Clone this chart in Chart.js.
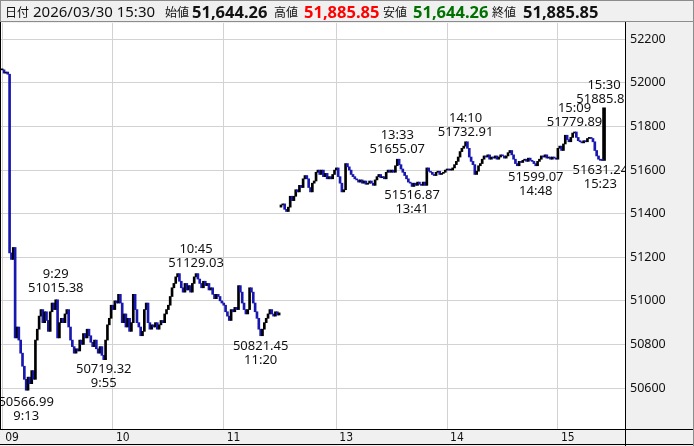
<!DOCTYPE html>
<html>
<head>
<meta charset="utf-8">
<script src="https://cdn.jsdelivr.net/npm/chart.js@4.4.1/dist/chart.umd.min.js"></script>
<style>
  body { margin: 0; background: #fff; }
  #wrap { position: relative; width: 694px; height: 446px; overflow: hidden; }
  #head { position: absolute; left: 0; top: 0; width: 694px; height: 22px; box-sizing: border-box;
          border: 1px solid #8c8c8c; background: #f0f0f0; z-index: 2; }
  #head span { position: absolute; top: 0; line-height: 21px; white-space: nowrap; color: #111; }
  .k { font-family: "Noto Sans CJK JP", sans-serif; font-size: 12px; }
  .n { font-family: "Noto Sans", sans-serif; font-size: 15px; }
  .b { font-family: "Noto Sans", sans-serif; font-size: 16.5px; font-weight: bold; }
  #chart { position: absolute; left: 0; top: 0; }
</style>
</head>
<body>
<div id="wrap">
  <div id="head">
    <span class="k" style="left:4px">日付</span>
    <span class="n" style="left:32px">2026/03/30 15:30</span>
    <span class="k" style="left:164px">始値</span>
    <span class="b" style="left:191px">51,644.26</span>
    <span class="k" style="left:273px">高値</span>
    <span class="b" style="left:303px;color:#ff0000">51,885.85</span>
    <span class="k" style="left:382px">安値</span>
    <span class="b" style="left:412px;color:#007000">51,644.26</span>
    <span class="k" style="left:491px">終値</span>
    <span class="b" style="left:522px">51,885.85</span>
  </div>
  <canvas id="chart" width="694" height="446"></canvas>
</div>
<script>
// 1-minute closes, morning session 9:00 - 11:30
const amOpen = 52060;
const amClose = [
  52060, 52045, 52050, 52040, 51220, 51190, 51245, 50830, 50880, 50820,
  50760, 50700, 50640, 50590, 50650, 50620, 50680, 50640, 50820, 50870,
  50930, 50960, 50900, 50950, 50910, 50860, 50950, 50990, 50960, 51005,
  50830, 50900, 50920, 50900, 50940, 50960, 50880, 50820, 50790, 50760,
  50780, 50770, 50820, 50800, 50850, 50830, 50870, 50840, 50810, 50790,
  50820, 50780, 50760, 50790, 50750, 50730, 50820, 50890, 50920, 50980,
  50960, 51000, 50990, 51030, 50990, 50900, 50940, 50880, 50920, 50860,
  50900, 51030, 50960, 50900, 50880, 50840, 50860, 50960, 50990, 50900,
  50870, 50890, 50880, 50900, 50870, 50890, 50910, 50900, 50940, 50960,
  50980, 51020, 51060, 51080, 51110, 51125, 51090, 51060, 51040, 51080,
  51050, 51070, 51040, 51080, 51110, 51125, 51100, 51080, 51060, 51090,
  51070, 51080, 51050, 51060, 51030, 51010, 51030, 51020, 51000, 50990,
  50980, 50950, 50930, 50910, 50960, 50950, 50970, 50960, 51070, 51040,
  50990, 50960, 50940, 50960, 51060, 51040, 50990, 50950, 50920, 50870,
  50840, 50870, 50900, 50920, 50940, 50960, 50940, 50930, 50950, 50935,
  50945
];

// afternoon session 12:30 - 15:24, then the 15:30 closing auction
const pmOpen = 51430;
const pmClose = [
  51440, 51445, 51420, 51410, 51430, 51480, 51460, 51480, 51510, 51500,
  51530, 51520, 51560, 51575, 51560, 51520, 51500, 51540, 51550, 51590,
  51600, 51580, 51600, 51570, 51585, 51560, 51570, 51560, 51580, 51600,
  51610, 51570, 51540, 51500, 51510, 51630, 51615, 51600, 51580, 51570,
  51560, 51555, 51545, 51555, 51540, 51550, 51535, 51540, 51550, 51540,
  51530, 51555, 51570, 51580, 51565, 51570, 51560, 51590, 51600, 51590,
  51600, 51590, 51620, 51650, 51625, 51605, 51590, 51575, 51560, 51545,
  51540, 51525, 51540, 51530, 51545, 51535, 51530, 51545, 51530, 51610,
  51595, 51590, 51580, 51575, 51590, 51595, 51580, 51585, 51590, 51600,
  51605, 51600, 51600, 51610, 51625, 51640, 51660, 51685, 51700, 51710,
  51730, 51700, 51660, 51640, 51625, 51580, 51595, 51620, 51630, 51650,
  51665, 51660, 51670, 51650, 51660, 51655, 51665, 51650, 51660, 51670,
  51665, 51655, 51665, 51680, 51690, 51670, 51650, 51630, 51620, 51640,
  51635, 51645, 51650, 51640, 51655, 51645, 51640, 51630, 51620, 51640,
  51650, 51665, 51660, 51670, 51655, 51660, 51650, 51660, 51655, 51650,
  51700, 51710, 51690, 51720, 51760, 51740, 51730, 51750, 51770, 51775,
  51750, 51735, 51730, 51725, 51735, 51730, 51745, 51750, 51745, 51730,
  51690, 51665, 51650, 51645, 51644.26, 51885.85
];

const hourTimes = ['9:00', '10:00', '11:00', '13:00', '14:00', '15:00'];
const hourLabels = ['09', '10', '11', '13', '14', '15'];
const yTicks = [50600, 50800, 51000, 51200, 51400, 51600, 51800, 52000, 52200];

// high / low notes [time, value, side]
const marks = [
  ['9:13', 50566.99, 'low'],
  ['9:29', 51015.38, 'high'],
  ['9:55', 50719.32, 'low'],
  ['10:45', 51129.03, 'high'],
  ['11:20', 50821.45, 'low'],
  ['13:33', 51655.07, 'high'],
  ['13:41', 51516.87, 'low'],
  ['14:10', 51732.91, 'high'],
  ['14:48', 51599.07, 'low'],
  ['15:09', 51779.89, 'high'],
  ['15:23', 51631.24, 'low'],
  ['15:30', 51885.85, 'high']
];

function hm(m) { return Math.floor(m / 60) + ':' + String(m % 60).padStart(2, '0'); }
const times = [];
for (let m = 9 * 60; m <= 11 * 60 + 30; m++) times.push(hm(m));
for (let m = 12 * 60 + 30; m <= 15 * 60 + 24; m++) times.push(hm(m));
times.push('15:30');

const closes = amClose.concat(pmClose);
const opens = closes.map((c, i) => i === 0 ? amOpen : (i === amClose.length ? pmOpen : closes[i - 1]));
const last = closes.length - 1;

const UP = '#000000';
const DOWN = '#1818b0';

const candles = [], candleColors = [];
closes.forEach((c, i) => {
  if (i === last) return;
  candles.push({ x: i, y: [opens[i], c] });
  candleColors.push(c >= opens[i] ? UP : DOWN);
});
const closing = [{ x: last, y: [opens[last], closes[last]] }];

const hourIdx = hourTimes.map(t => times.indexOf(t));

const frame = {
  id: 'frame',
  beforeDraw(chart) {
    const { ctx, chartArea: a } = chart;
    ctx.save();
    ctx.fillStyle = '#f0f0f0';
    ctx.fillRect(0, 0, chart.width, chart.height);
    ctx.fillStyle = '#ffffff';
    ctx.fillRect(a.left, a.top, a.right - a.left, a.bottom - a.top);
    ctx.restore();
  },
  afterDatasetsDraw(chart) {
    const { ctx, chartArea: a, scales } = chart;
    ctx.save();
    ctx.beginPath();
    ctx.rect(a.left, a.top, a.right - a.left, a.bottom - a.top);
    ctx.clip();
    ctx.fillStyle = '#111';
    ctx.font = '13px "Noto Sans", sans-serif';
    ctx.textAlign = 'center';
    ctx.textBaseline = 'middle';
    marks.forEach(([t, v, side]) => {
      const x = scales.x.getPixelForValue(times.indexOf(t));
      const y = scales.y.getPixelForValue(v);
      const txt = v.toFixed(2);
      if (side === 'high') {
        ctx.fillText(txt, x, y - 9);
        ctx.fillText(t, x, y - 23);
      } else {
        ctx.fillText(txt, x, y + 7);
        ctx.fillText(t, x, y + 21);
      }
    });
    ctx.restore();
  },
  afterDraw(chart) {
    const { ctx, chartArea: a } = chart;
    ctx.save();
    ctx.strokeStyle = '#000';
    ctx.lineWidth = 1;
    ctx.beginPath();
    ctx.moveTo(0.5, 22); ctx.lineTo(0.5, a.bottom);
    ctx.moveTo(0, a.bottom + 0.5); ctx.lineTo(chart.width, a.bottom + 0.5);
    ctx.moveTo(a.right + 0.5, 22); ctx.lineTo(a.right + 0.5, chart.height);
    ctx.moveTo(0, chart.height - 1.5); ctx.lineTo(chart.width, chart.height - 1.5);
    ctx.stroke();
    ctx.strokeStyle = '#8c8c8c';
    ctx.beginPath();
    ctx.moveTo(chart.width - 0.5, 22); ctx.lineTo(chart.width - 0.5, chart.height);
    ctx.stroke();
    ctx.restore();
  }
};

new Chart(document.getElementById('chart'), {
  type: 'bar',
  data: {
    datasets: [{
      data: candles,
      backgroundColor: candleColors,
      barThickness: 2,
      minBarLength: 1,
      grouped: false
    }, {
      data: closing,
      backgroundColor: UP,
      barThickness: 3,
      minBarLength: 1,
      grouped: false
    }]
  },
  options: {
    responsive: false,
    animation: false,
    devicePixelRatio: 1,
    layout: { padding: { top: 23, left: 1, right: 0, bottom: 2 } },
    plugins: { legend: { display: false }, tooltip: { enabled: false } },
    scales: {
      x: {
        type: 'linear',
        min: -0.65,
        max: 337.35,
        offset: false,
        grid: { color: '#d2d2d2', offset: false, drawTicks: false },
        border: { display: false },
        afterBuildTicks: s => { s.ticks = hourIdx.map(v => ({ value: v })); },
        afterFit: s => { s.height = 15; },
        ticks: {
          autoSkip: false,
          maxRotation: 0,
          align: 'start',
          labelOffset: 3,
          padding: 2,
          color: '#111',
          font: { family: '"Liberation Sans Narrow", "DejaVu Sans Condensed", sans-serif', size: 12 },
          callback: v => hourLabels[hourIdx.indexOf(v)]
        }
      },
      y: {
        position: 'right',
        min: 50412,
        max: 52275,
        grid: { color: '#d2d2d2', drawTicks: false },
        border: { display: false },
        afterBuildTicks: s => { s.ticks = yTicks.map(v => ({ value: v })); },
        afterFit: s => { s.width = 69; },
        ticks: {
          padding: 5,
          color: '#111',
          font: { family: '"Noto Sans", sans-serif', size: 12.5 },
          callback: v => String(v)
        }
      }
    }
  },
  plugins: [frame]
});
</script>
</body>
</html>
